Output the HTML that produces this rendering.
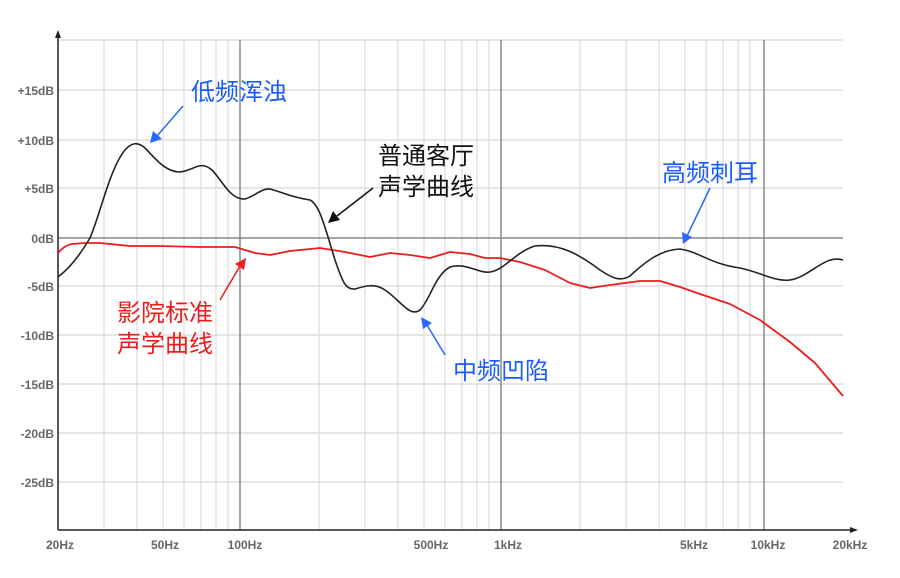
<!DOCTYPE html>
<html><head><meta charset="utf-8"><style>
body{margin:0;background:#fff;}
svg text{font-family:"Liberation Sans","Noto Sans CJK SC",sans-serif;}
.yl{font-size:12px;font-weight:bold;fill:#666;text-anchor:end}
.xl{font-size:12px;font-weight:bold;fill:#666;text-anchor:middle}
.cn{font-size:24px;font-weight:normal}
</style></head><body>
<svg width="900" height="573" viewBox="0 0 900 573" xmlns="http://www.w3.org/2000/svg">
<g stroke="#ddd" stroke-width="1.5">
<line x1="58" y1="40" x2="843" y2="40"/>
<line x1="58" y1="90" x2="843" y2="90"/>
<line x1="58" y1="140" x2="843" y2="140"/>
<line x1="58" y1="188" x2="843" y2="188"/>
<line x1="58" y1="286" x2="843" y2="286"/>
<line x1="58" y1="335" x2="843" y2="335"/>
<line x1="58" y1="384" x2="843" y2="384"/>
<line x1="58" y1="433" x2="843" y2="433"/>
<line x1="58" y1="482" x2="843" y2="482"/>
</g>
<g stroke="#ddd" stroke-width="1.2">
<line x1="104" y1="40" x2="104" y2="530"/><line x1="137" y1="40" x2="137" y2="530"/><line x1="163" y1="40" x2="163" y2="530"/><line x1="184" y1="40" x2="184" y2="530"/><line x1="201" y1="40" x2="201" y2="530"/><line x1="216" y1="40" x2="216" y2="530"/><line x1="228" y1="40" x2="228" y2="530"/>
<line x1="319" y1="40" x2="319" y2="530"/><line x1="365" y1="40" x2="365" y2="530"/><line x1="398" y1="40" x2="398" y2="530"/><line x1="424" y1="40" x2="424" y2="530"/><line x1="445" y1="40" x2="445" y2="530"/><line x1="462" y1="40" x2="462" y2="530"/><line x1="477" y1="40" x2="477" y2="530"/><line x1="489" y1="40" x2="489" y2="530"/>
<line x1="580" y1="40" x2="580" y2="530"/><line x1="626" y1="40" x2="626" y2="530"/><line x1="659" y1="40" x2="659" y2="530"/><line x1="685" y1="40" x2="685" y2="530"/><line x1="706" y1="40" x2="706" y2="530"/><line x1="723" y1="40" x2="723" y2="530"/><line x1="738" y1="40" x2="738" y2="530"/><line x1="750" y1="40" x2="750" y2="530"/>
</g>
<g stroke="#888" stroke-width="1.5">
<line x1="240" y1="40" x2="240" y2="530"/><line x1="501" y1="40" x2="501" y2="530"/><line x1="764" y1="40" x2="764" y2="530"/>
<line x1="58" y1="238" x2="843" y2="238"/>
</g>
<line x1="58" y1="530" x2="58" y2="36" stroke="#222" stroke-width="1.5"/>
<polygon points="58,30 55,38 61,38" fill="#222"/>
<line x1="58" y1="530" x2="852" y2="530" stroke="#222" stroke-width="1.5"/>
<polygon points="858,530 850,527 850,533" fill="#222"/>
<g class="yl">
<text x="54" y="95">+15dB</text><text x="54" y="145">+10dB</text><text x="54" y="193">+5dB</text><text x="54" y="243">0dB</text><text x="54" y="291">-5dB</text><text x="54" y="340">-10dB</text><text x="54" y="389">-15dB</text><text x="54" y="438">-20dB</text><text x="54" y="487">-25dB</text>
</g>
<g class="xl">
<text x="60" y="549">20Hz</text><text x="165" y="549">50Hz</text><text x="245" y="549">100Hz</text><text x="431" y="549">500Hz</text><text x="508" y="549">1kHz</text><text x="694" y="549">5kHz</text><text x="768" y="549">10kHz</text><text x="850" y="549">20kHz</text>
</g>
<path fill="none" stroke="#ee1c1c" stroke-width="1.8" stroke-linejoin="round" d="M58,253 C62,248 66,245 72,244 L85,243 100,243 130,246 160,246 200,247 235,247 255,253 270,255 290,251 320,248 345,252 370,257 390,253 410,255 430,258 450,252 470,254 485,258 500,258 520,262 545,270 570,283 590,288 610,285 640,281 660,281 680,287 700,294 730,304 760,320 790,342 815,363 843,396"/>
<path fill="none" stroke="#222" stroke-width="1.6" stroke-linejoin="round" d="M58,277 C70,268 80,255 90,238 C100,215 110,168 125,150 C132,142 138,142 145,148 C155,158 165,172 180,172 C195,170 200,160 212,170 C222,180 230,200 245,199 C255,196 262,188 270,189 C282,192 290,197 310,200 C320,205 325,228 335,260 C342,280 345,290 355,289 C365,286 375,283 385,290 C400,300 410,318 420,310 C430,300 435,275 450,267 C465,262 480,274 490,272 C505,270 515,252 535,246 C560,243 580,255 600,270 C612,278 620,282 630,276 C645,262 660,250 680,249 C700,252 710,264 740,268 C760,272 775,282 790,280 C810,277 825,254 843,260"/>
<g fill="#1a5cff"><text class="cn" x="191" y="100">低频浑浊</text><text class="cn" x="662" y="181">高频刺耳</text><text class="cn" x="453" y="379">中频凹陷</text></g>
<g fill="#111"><text class="cn" x="378" y="164">普通客厅</text><text class="cn" x="378" y="195">声学曲线</text></g>
<g fill="#ee1c1c"><text class="cn" x="117" y="321">影院标准</text><text class="cn" x="117" y="352">声学曲线</text></g>
<g stroke-width="1.5">
<line x1="183" y1="106" x2="157" y2="136" stroke="#2a66ff"/><polygon points="150,143 153,131 162,139" fill="#2a66ff"/>
<line x1="710" y1="188" x2="687" y2="236" stroke="#2a66ff"/><polygon points="683,244 682,232 692,237" fill="#2a66ff"/>
<line x1="445" y1="355" x2="427" y2="325" stroke="#2a66ff"/><polygon points="421,317 432,323 423,329" fill="#2a66ff"/>
<line x1="373" y1="188" x2="337" y2="216" stroke="#111"/><polygon points="328,223 333,211 340,220" fill="#111"/>
<line x1="220" y1="300" x2="240" y2="266" stroke="#ee1c1c"/><polygon points="246,258 244,270 235,264" fill="#ee1c1c"/>
</g>
</svg>
</body></html>
